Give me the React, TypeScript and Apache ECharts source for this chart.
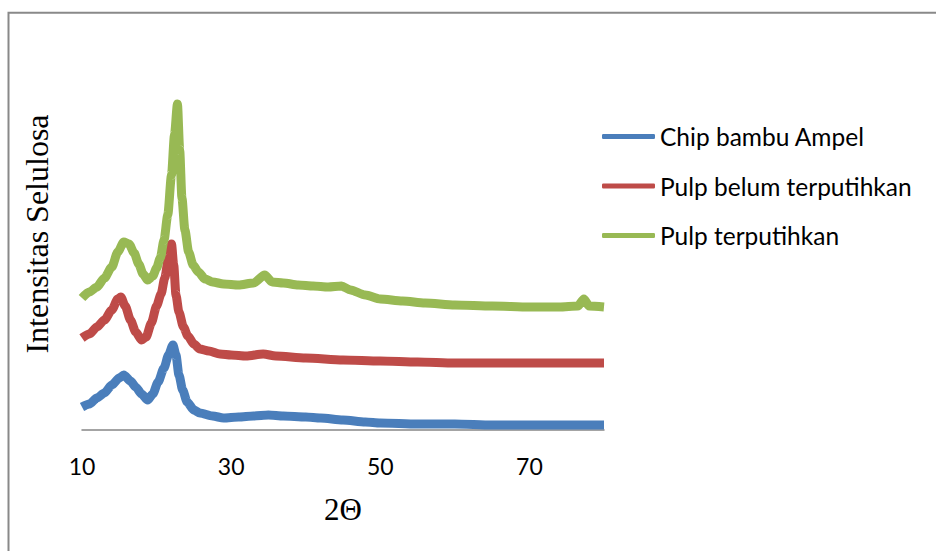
import React, { useEffect, useRef } from "react";
import * as echarts from "echarts";

const seriesNames = ["Chip bambu Ampel", "Pulp belum terputihkan", "Pulp terputihkan"];
const seriesColors = ["#4A7EBB", "#BE4B48", "#98B954"];

const xTicks = [10, 30, 50, 70];

const blueX = [10, 11, 12, 13, 14, 15, 15.6, 16.5, 17.2, 18, 18.8, 19.5, 20.2, 21, 21.6, 22.2, 22.6, 23.0, 23.5, 24.1, 25.0, 25.8, 27.5, 29, 31, 33, 35, 37, 40, 42, 45, 48, 50, 55, 60, 65, 70, 75, 80];
const blueY = [23, 26, 32, 37, 45, 52, 55, 49, 43, 36, 30, 36, 48, 62, 75, 85, 75, 55, 40, 28, 20, 17, 14, 12, 13, 14, 15, 14, 13, 12, 10, 8, 7, 6, 6, 5, 5, 5, 5];

const redX = [10, 11, 12, 13, 14, 14.8, 15.2, 15.8, 16.5, 17.2, 18, 18.6, 19.3, 20.0, 20.6, 21.1, 21.6, 22.0, 22.3, 22.6, 23.0, 23.6, 24.2, 25.0, 25.8, 27, 28.5, 30, 32, 34.3, 36, 40, 45, 50, 55, 60, 70, 80];
const redY = [92, 96, 103, 110, 120, 131, 133, 124, 110, 98, 90, 93, 107, 124, 136, 152, 172, 186, 165, 135, 118, 103, 94, 86, 81, 79, 76, 75, 74, 76, 74, 72, 70, 69, 68, 67, 67, 67];

const greenX = [10, 11, 12, 13, 14, 14.8, 15.6, 16.3, 17, 17.6, 18.2, 18.8, 19.5, 20.0, 20.5, 21.0, 21.5, 22.0, 22.4, 22.8, 23.1, 23.4, 23.8, 24.3, 24.9, 25.6, 26.5, 27.5, 29, 31, 33, 34.5, 35.5, 37, 39, 41, 43, 44.8, 46, 48, 50, 53, 56, 60, 65, 70, 74, 76.5, 77.3, 78, 80];
const greenY = [132, 138, 143, 152, 163, 178, 188, 186, 177, 166, 156, 150, 154, 162, 172, 190, 215, 255, 295, 326, 280, 232, 200, 178, 165, 158, 151, 148, 146, 145, 147, 155, 148, 147, 145, 144, 143, 144, 140, 135, 131, 129, 127, 125, 124, 123, 123, 124, 131, 124, 123];

const pairs = (xs: number[], ys: number[]) => xs.map((x, i) => [x, ys[i]]);

export default function App() {
  const ref = useRef<HTMLDivElement>(null);
  useEffect(() => {
    if (!ref.current) return;
    const chart = echarts.init(ref.current, undefined, { renderer: "svg" });
    const datasets = [pairs(blueX, blueY), pairs(redX, redY), pairs(greenX, greenY)];
    chart.setOption({
      animation: false,
      backgroundColor: "#ffffff",
      grid: { left: 82, right: 332, top: 100, bottom: 121 },
      xAxis: {
        type: "value",
        min: 10,
        max: 80,
        interval: 20,
        axisLine: { show: true, lineStyle: { color: "#868686", width: 1.5 } },
        axisTick: { show: false },
        splitLine: { show: false },
        axisLabel: {
          showMaxLabel: false,
          margin: 24,
          color: "#000000",
          fontSize: 23,
          fontFamily: "Lato",
          formatter: (v: number) => (xTicks.includes(v) ? String(v) : ""),
        },
      },
      yAxis: {
        type: "value",
        min: 0,
        max: 330,
        show: false,
      },
      legend: {
        orient: "vertical",
        left: 602,
        top: 124,
        padding: 0,
        icon: "roundRect",
        itemWidth: 53,
        itemHeight: 5,
        itemGap: 24.5,
        textStyle: { fontSize: 24.5, fontFamily: "Lato", color: "#000000" },
        data: seriesNames,
      },
      series: seriesNames.map((name, i) => ({
        name,
        type: "line",
        data: datasets[i],
        showSymbol: false,
        smooth: 0.25,
        smoothMonotone: "x",
        lineStyle: { color: seriesColors[i], width: 9 },
        itemStyle: { color: seriesColors[i] },
      })),
      graphic: [
        {
          type: "rect",
          shape: { x: 8.5, y: 12.8, width: 1000, height: 700 },
          style: { fill: "none", stroke: "#898989", lineWidth: 2 },
          silent: true,
        },
        {
          type: "text",
          x: 37,
          y: 234,
          rotation: Math.PI / 2,
          style: {
            text: "Intensitas Selulosa",
            fontSize: 32,
            fontFamily: "Liberation Serif",
            fill: "#000000",
            align: "center",
            verticalAlign: "middle",
          },
        },
        {
          type: "text",
          x: 343,
          y: 509,
          style: {
            text: "2\u0398",
            fontSize: 31,
            fontFamily: "Liberation Serif",
            fill: "#000000",
            align: "center",
            verticalAlign: "middle",
          },
        },
      ],
    });
    return () => chart.dispose();
  }, []);
  return (
    <div
      ref={ref}
      style={{ position: "fixed", left: 0, top: 0, width: 936, height: 551 }}
    />
  );
}
